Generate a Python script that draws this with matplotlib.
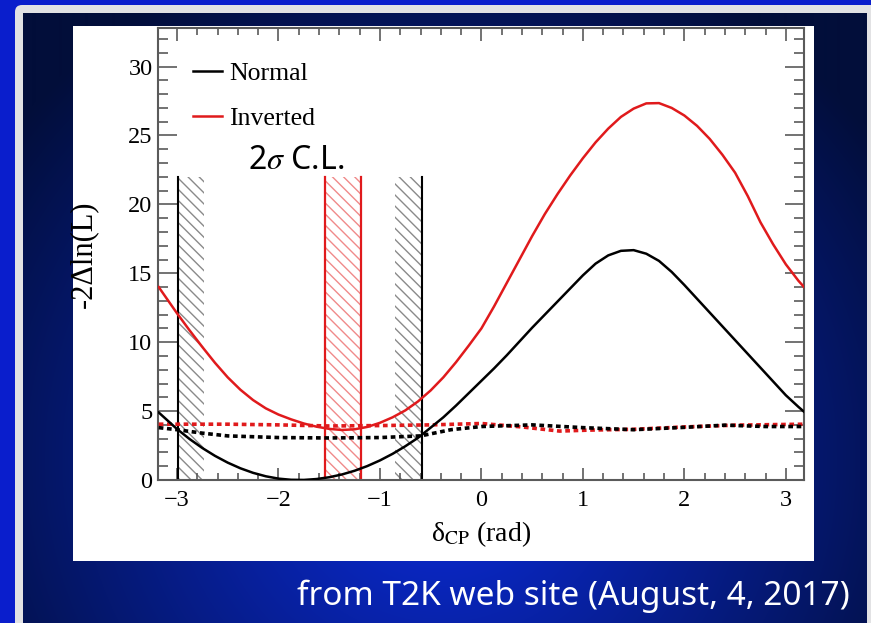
import numpy as np
import matplotlib.pyplot as plt
from matplotlib.patches import Rectangle, FancyBboxPatch
from matplotlib.ticker import MultipleLocator

plt.rcParams['mathtext.fontset'] = 'stix'
plt.rcParams['hatch.linewidth'] = 1.0

W, H = 871, 623

# -2 delta ln(L) profiles vs delta_CP (rad)
nh_x = [-3.18, -3.0, -2.875, -2.75, -2.625, -2.5, -2.375, -2.25, -2.125, -2.0,
        -1.875, -1.75, -1.625, -1.5, -1.375, -1.25, -1.125, -1.0, -0.875, -0.75,
        -0.625, -0.5, -0.375, -0.25, -0.125, 0.0, 0.125, 0.25, 0.375, 0.5, 0.625,
        0.75, 0.875, 1.0, 1.125, 1.25, 1.375, 1.5, 1.625, 1.75, 1.875, 2.0, 2.125,
        2.25, 2.375, 2.5, 2.625, 2.75, 2.875, 3.0, 3.125, 3.18]
nh_y = [4.9, 3.7, 2.97, 2.32, 1.75, 1.26, 0.85, 0.52, 0.27, 0.10,
        0.015, 0.005, 0.07, 0.20, 0.40, 0.67, 1.01, 1.42, 1.90, 2.45,
        3.06, 3.8, 4.55, 5.4, 6.3, 7.2, 8.1, 9.05, 10.05, 11.05, 12.0,
        12.95, 13.9, 14.85, 15.7, 16.3, 16.63, 16.68, 16.42, 15.9, 15.1, 14.15, 13.15,
        12.15, 11.15, 10.15, 9.15, 8.15, 7.15, 6.15, 5.3, 4.95]

ih_x = [-3.18, -3.0, -2.875, -2.75, -2.625, -2.5, -2.375, -2.25, -2.125, -2.0,
        -1.875, -1.75, -1.625, -1.5, -1.375, -1.25, -1.125, -1.0, -0.875, -0.75,
        -0.625, -0.5, -0.375, -0.25, -0.125, 0.0, 0.125, 0.25, 0.375, 0.5, 0.625,
        0.75, 0.875, 1.0, 1.125, 1.25, 1.375, 1.5, 1.625, 1.75, 1.875, 2.0, 2.125,
        2.25, 2.375, 2.5, 2.625, 2.75, 2.875, 3.0, 3.125, 3.18]
ih_y = [14.0, 12.1, 10.85, 9.65, 8.5, 7.45, 6.55, 5.8, 5.2, 4.75,
        4.4, 4.1, 3.87, 3.71, 3.63, 3.68, 3.85, 4.15, 4.55, 5.05,
        5.7, 6.5, 7.45, 8.55, 9.75, 11.0, 12.6, 14.3, 16.0, 17.7, 19.3,
        20.75, 22.1, 23.35, 24.5, 25.5, 26.35, 26.95, 27.33, 27.35, 27.0, 26.45, 25.7,
        24.75, 23.6, 22.3, 20.6, 18.7, 17.1, 15.65, 14.45, 14.0]

# Feldman-Cousins critical values for 2 sigma
nh_crit_x = [-3.18, -3.0, -2.75, -2.5, -2.0, -1.5, -1.0, -0.6, -0.3, 0.0, 0.5,
             1.0, 1.5, 2.0, 2.4, 2.8, 3.18]
nh_crit_y = [3.8, 3.65, 3.4, 3.2, 3.08, 3.05, 3.08, 3.2, 3.65, 3.88, 4.0,
             3.8, 3.65, 3.82, 3.98, 3.88, 3.88]
ih_crit_x = [-3.18, -2.5, -2.0, -1.5, -1.0, -0.5, 0.0, 0.4, 0.77, 1.06, 1.5,
             2.0, 2.5, 3.18]
ih_crit_y = [4.05, 4.05, 4.0, 3.92, 3.95, 4.0, 4.1, 3.85, 3.55, 3.62, 3.68,
             3.85, 3.98, 4.05]

# 2 sigma allowed intervals
nh_interval = [-2.99, -0.59]
ih_interval = [-1.54, -1.19]
hatch_width = 0.26
band_top = 22

RED = '#e01a1c'

fig = plt.figure(figsize=(W / 100, H / 100), dpi=100)
fig.patch.set_facecolor('#0a1ecc')

# slide background in pixel coordinates
bg = fig.add_axes([0, 0, 1, 1])
bg.set_xlim(0, W)
bg.set_ylim(H, 0)
bg.axis('off')

bg.add_patch(FancyBboxPatch((15, 5), W + 20, H + 30,
                            boxstyle='round,pad=0,rounding_size=7',
                            facecolor='#e2e2e4', edgecolor='none', zorder=0))
yy, xx = np.mgrid[0:H, 0:W]
t = np.clip(np.hypot(xx - 440, yy - 460) / 540, 0, 1)
bright = np.array([11, 44, 222]) / 255
dark = np.array([2, 14, 58]) / 255
grad = bright * (1 - t)[..., None] + dark * t[..., None]
im = bg.imshow(grad, extent=(0, W, H, 0), interpolation='bilinear', zorder=1,
               aspect='auto')
im.set_clip_path(Rectangle((23, 13), 843, H, transform=bg.transData))
bg.add_patch(Rectangle((73, 26), 741, 535, facecolor='white', edgecolor='none',
                       zorder=2))
bg.set_xlim(0, W)
bg.set_ylim(H, 0)

fig.text(850 / W, 1 - 596 / H, 'from T2K web site (August, 4, 2017)',
         ha='right', va='center', color='white', fontsize=24, family='Noto Sans')

# main plot
ax = fig.add_axes([158 / W, 1 - 480 / H, (804 - 158) / W, (480 - 28) / H])
ax.set_xlim(-3.187, 3.179)
ax.set_ylim(0, 32.8)

# hatched 2 sigma bands
ax.axvspan(nh_interval[0], nh_interval[0] + hatch_width, ymax=band_top / 32.8,
           facecolor='none', edgecolor='#8a8a8a', linewidth=0, hatch='\\\\\\', zorder=1)
ax.axvspan(nh_interval[1] - hatch_width, nh_interval[1], ymax=band_top / 32.8,
           facecolor='none', edgecolor='#8a8a8a', linewidth=0, hatch='\\\\\\', zorder=1)
ax.axvspan(ih_interval[0], ih_interval[1], ymax=band_top / 32.8,
           facecolor='none', edgecolor='#f08a8a', linewidth=0, hatch='\\\\\\', zorder=1)
for xv in nh_interval:
    ax.plot([xv, xv], [0, band_top], color='black', lw=1.5, zorder=2)
for xv in ih_interval:
    ax.plot([xv, xv], [0, band_top], color=RED, lw=1.6, zorder=2)

# critical values (dashed)
ax.plot(ih_crit_x, ih_crit_y, color=RED, lw=2.6, ls=(0, (1.3, 1.0)),
        dash_capstyle='butt', zorder=3)
ax.plot(nh_crit_x, nh_crit_y, color='black', lw=2.6, ls=(0, (1.3, 1.0)),
        dash_capstyle='butt', zorder=3)

nh_line, = ax.plot(nh_x, nh_y, color='black', lw=1.8, zorder=4)
ih_line, = ax.plot(ih_x, ih_y, color=RED, lw=1.8, zorder=4)

ax.legend([nh_line, ih_line], ['Normal', 'Inverted'], loc='upper left',
          bbox_to_anchor=(0.054, 0.925), frameon=False, borderpad=0,
          borderaxespad=0, handlelength=1.15, handletextpad=0.25,
          labelspacing=0.85, prop={'family': 'Liberation Serif', 'size': 18.5})

ax.text(-2.30, 23.2, r'2$\mathit{\sigma}$ C.L.', fontsize=23, family='Noto Sans',
        ha='left', va='center', color='black')

# ROOT-style frame and ticks
for sp in ax.spines.values():
    sp.set_color('#5a5a5a')
    sp.set_linewidth(1.5)
ax.xaxis.set_major_locator(MultipleLocator(1))
ax.xaxis.set_minor_locator(MultipleLocator(0.2))
ax.yaxis.set_major_locator(MultipleLocator(5))
ax.yaxis.set_minor_locator(MultipleLocator(1))
ax.tick_params(axis='both', which='both', direction='in', top=True, right=True,
               color='#5a5a5a', width=1.2)
ax.tick_params(axis='x', which='major', length=9, pad=7)
ax.tick_params(axis='x', which='minor', length=4.8)
ax.tick_params(axis='y', which='major', length=14, pad=4)
ax.tick_params(axis='y', which='minor', length=7)
for lab in ax.get_xticklabels() + ax.get_yticklabels():
    lab.set_family('Liberation Serif')
    lab.set_fontsize(17.5)

ax.set_xlabel('δ$_{\\rm CP}$ (rad)', family='Liberation Serif', fontsize=20, labelpad=6)
ax.set_ylabel('-2Δln(L)', family='Liberation Serif', fontsize=22)
ax.yaxis.set_label_coords(-0.093, 0.5)

fig.savefig('out.png', dpi=100)
